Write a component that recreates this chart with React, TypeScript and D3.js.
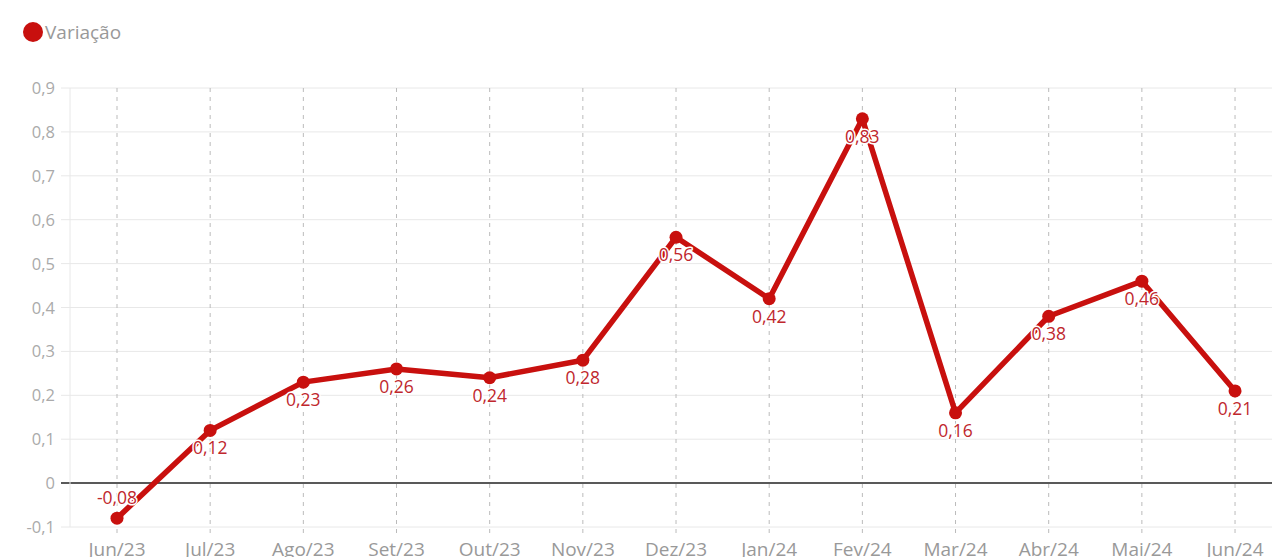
import React from "react";
import * as d3 from "d3";

const categories = ["Jun/23","Jul/23","Ago/23","Set/23","Out/23","Nov/23","Dez/23","Jan/24","Fev/24","Mar/24","Abr/24","Mai/24","Jun/24"];
const values = [-0.08, 0.12, 0.23, 0.26, 0.24, 0.28, 0.56, 0.42, 0.83, 0.16, 0.38, 0.46, 0.21];
const yTicks = [-0.1, 0, 0.1, 0.2, 0.3, 0.4, 0.5, 0.6, 0.7, 0.8, 0.9];
const seriesName = "Variação";

const W = 1272, H = 557;
const FONT = "'Open Sans', sans-serif";
const RED = "#c8100e";
const LABEL = "#c0272d";

export default function App() {
  const x = d3.scalePoint<string>().domain(categories).range([117, 117 + 93.17 * 12]);
  const y = d3.scaleLinear().domain([-0.1, 0.9]).range([527, 88]);
  const fmt = (v: number) => v.toFixed(2).replace(".", ",");
  const tfmt = (v: number) => (v === 0 ? "0" : v.toFixed(1).replace(".", ","));
  const line = d3.line<number>().x((_, i) => x(categories[i])!).y(d => y(d));
  return (
    <div style={{ position: "fixed", left: 0, top: 0, width: W, height: H, background: "#fff" }}>
      <svg width={W} height={H} style={{ display: "block", fontFamily: FONT }}>
        {/* legend */}
        <circle cx={33} cy={32} r={10} fill={RED} />
        <text x={45} y={39} fontSize={19} fill="#999">{seriesName}</text>
        {/* horizontal grid */}
        {yTicks.map(t => (
          <line key={t} x1={61} x2={W} y1={y(t)} y2={y(t)} stroke={t === 0 ? "#222" : "#e8e8e8"} strokeWidth={t === 0 ? 1.5 : 1} />
        ))}
        <line x1={70} x2={70} y1={88} y2={527} stroke="#e8e8e8" />
        {yTicks.map(t => (
          <text key={"l" + t} x={55} y={y(t) + 6} textAnchor="end" fontSize={16.5} fill="#aaa">{tfmt(t)}</text>
        ))}
        {/* vertical dashed grid */}
        {categories.map(c => (
          <line key={c} x1={x(c)!} x2={x(c)!} y1={88} y2={536} stroke="#bbb" strokeDasharray="4,5" />
        ))}
        {categories.map(c => (
          <text key={"x" + c} x={x(c)!} y={556} textAnchor="middle" fontSize={19} fill="#999">{c}</text>
        ))}
        {/* line */}
        <path d={line(values)!} fill="none" stroke={RED} strokeWidth={5.5} strokeLinejoin="round" strokeLinecap="round" />
        {values.map((v, i) => (
          <circle key={i} cx={x(categories[i])!} cy={y(v)} r={6.5} fill={RED} />
        ))}
        {values.map((v, i) => {
          const cx = x(categories[i])!;
          const below = v >= 0;
          const ty = below ? y(v) + 24 : y(v) - 14;
          return (
            <text key={"d" + i} x={cx} y={ty} textAnchor="middle" fontSize={17.5} fill={LABEL}
              stroke="#fff" strokeWidth={3} paintOrder="stroke" strokeLinejoin="round">{fmt(v)}</text>
          );
        })}
      </svg>
    </div>
  );
}
